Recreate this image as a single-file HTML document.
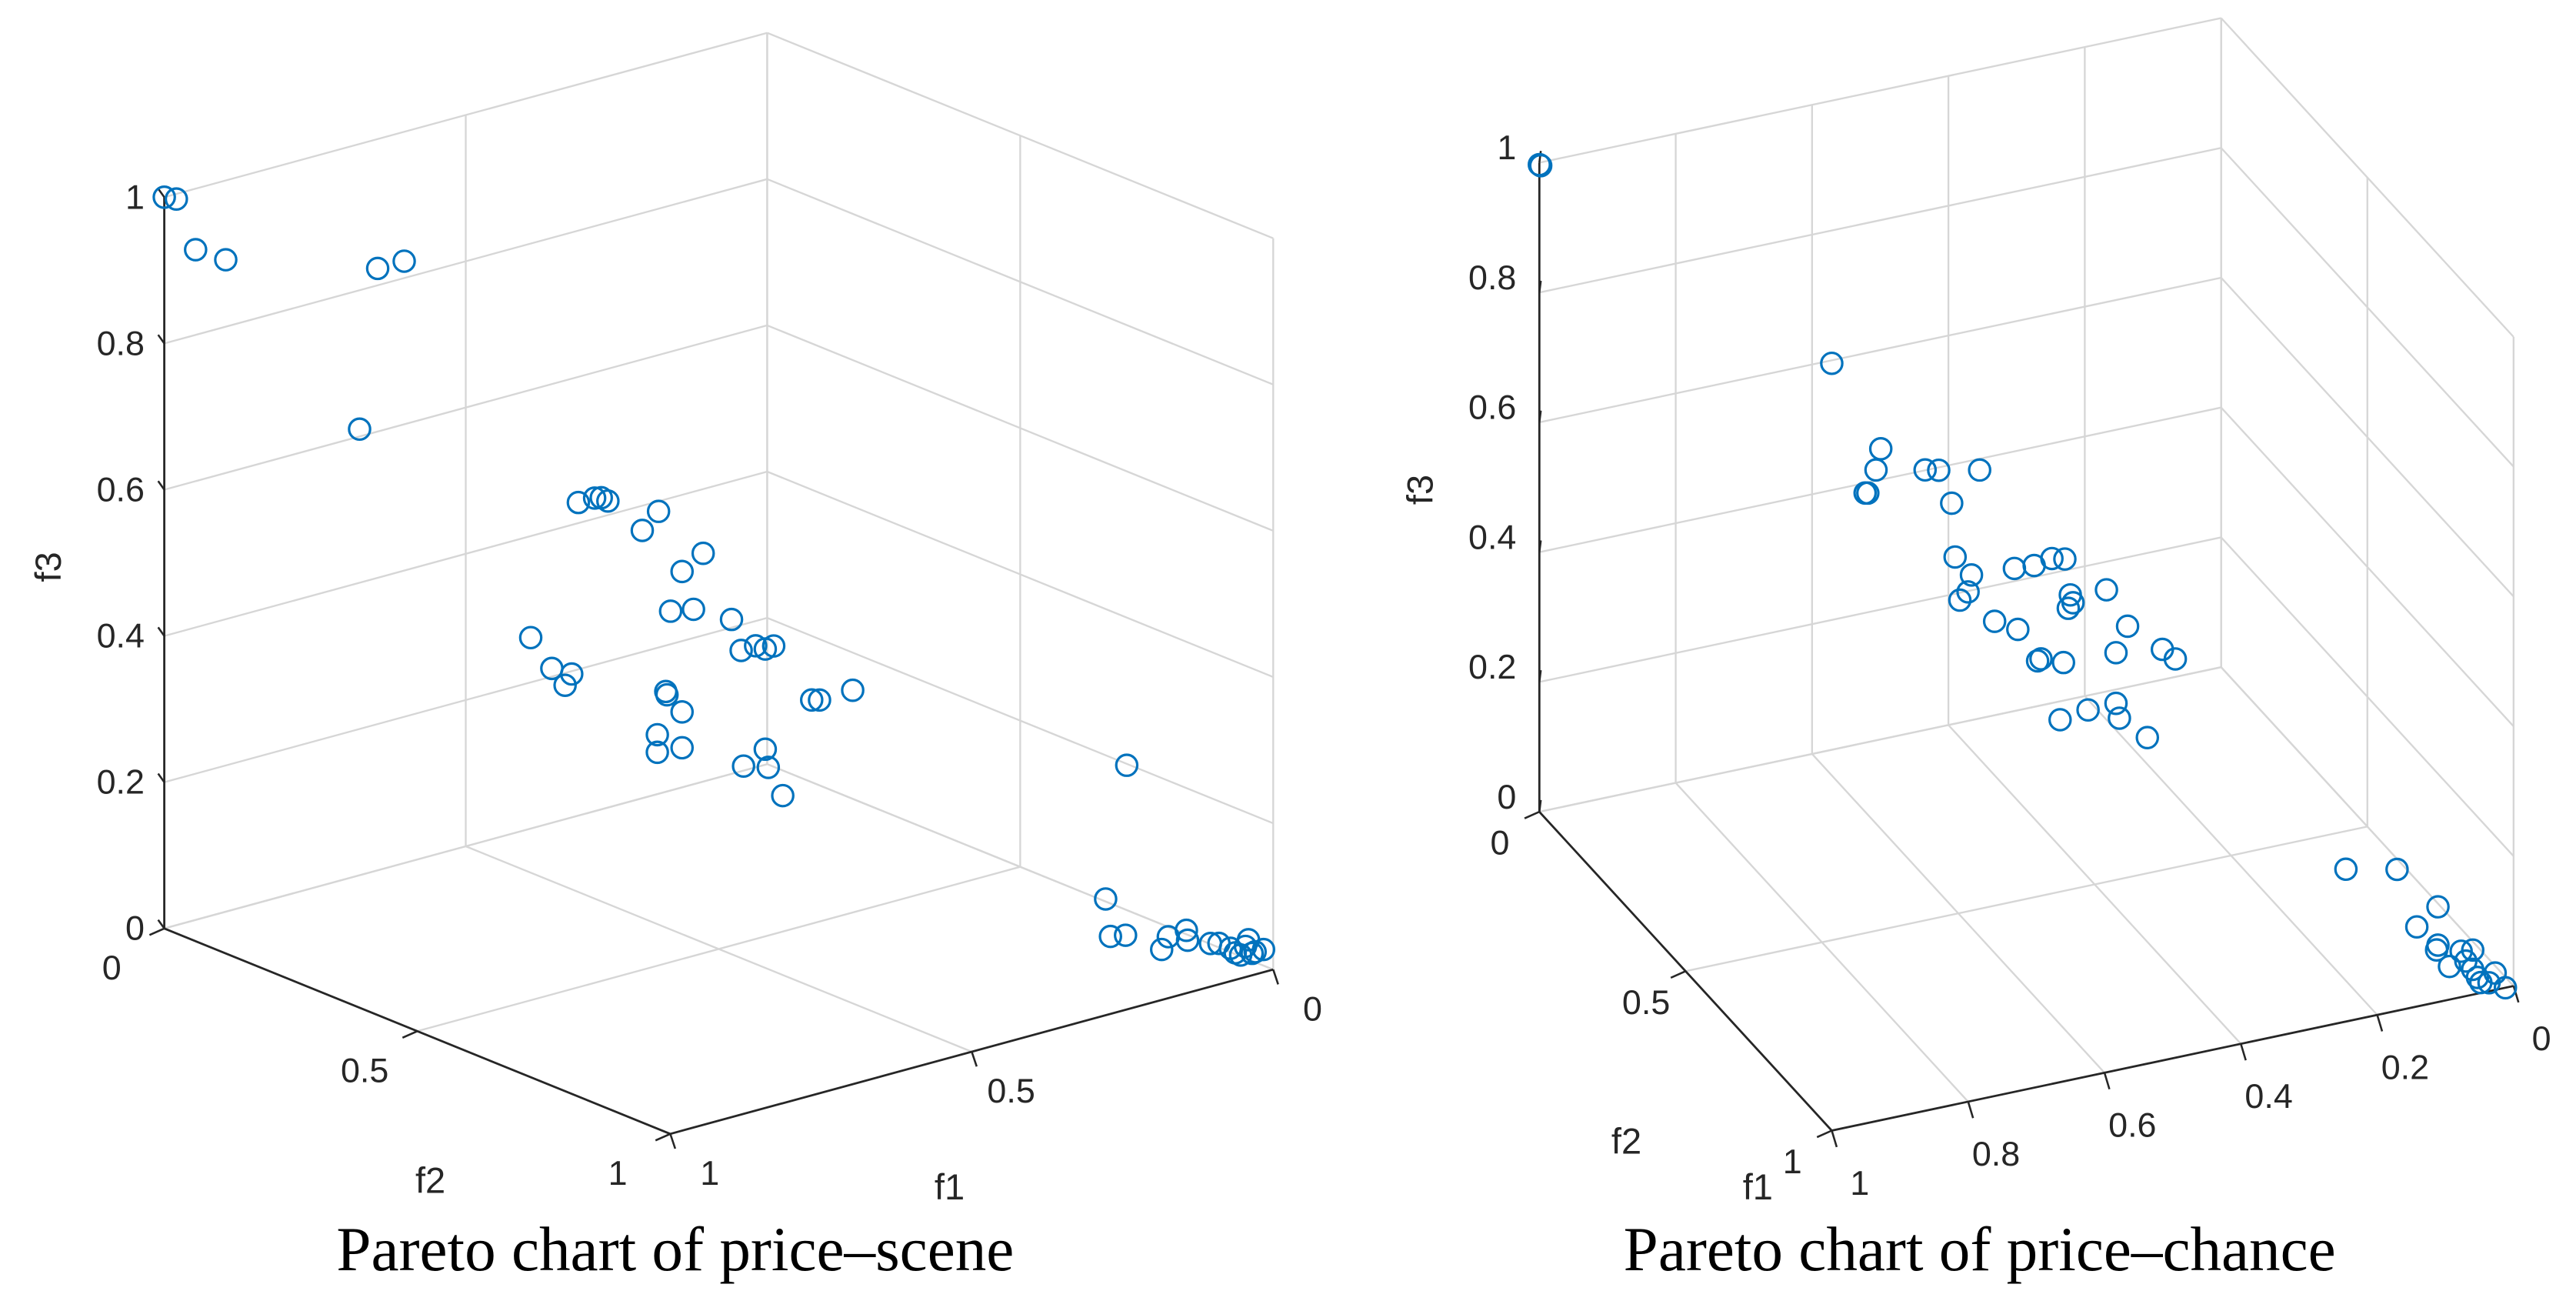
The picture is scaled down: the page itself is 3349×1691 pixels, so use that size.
<!DOCTYPE html>
<html><head><meta charset="utf-8"><style>
html,body{margin:0;padding:0;background:#fff;}
svg{display:block;}
text{font-family:"Liberation Sans",sans-serif;fill:#262626;}
.ttl{font-family:"Liberation Serif",serif;fill:#000;font-size:38px;}
</style></head><body>
<svg id="fig" width="3349" height="1691" viewBox="0 0 1568 791.7" preserveAspectRatio="none" xmlns="http://www.w3.org/2000/svg">
<g id="c1"></g>
<g id="c2"></g>
<text class="ttl" x="411" y="773" text-anchor="middle">Pareto chart of price–scene</text>
<text class="ttl" x="1205" y="773" text-anchor="middle">Pareto chart of price–chance</text>
</svg>
<script>
// Chart 1 data: price-scene
const s1_f1 = [1.0,0.98,0.99,0.94,0.73,0.686,0.76,0.565,0.538,0.527,0.516,0.432,0.459,0.358,0.393,0.412,0.374,0.311,0.295,0.271,0.255,0.241,0.644,0.609,0.576,0.587,0.42,0.418,0.393,0.434,0.434,0.393,0.255,0.291,0.25,0.226,0.178,0.165,0.11,0.159,0.194,0.186,0.161,0.185,0.174,0.144,0.142,0.104,0.09,0.071,0.063,0.046,0.041,0.03,0.016,0.054,0.035];
const s1_f2 = [0,0,0.05,0.05,0.1,0.1,0.1,0.3,0.3,0.3,0.3,0.3,0.3,0.3,0.3,0.3,0.3,0.3,0.3,0.3,0.3,0.3,0.3,0.3,0.3,0.3,0.3,0.3,0.3,0.3,0.3,0.3,0.3,0.3,0.3,0.3,0.3,0.3,0.3,0.9,0.9,0.9,0.9,1,1,1,1,1,1,1,1,1,1,1,1,1,1];
const s1_f3 = [1.0,0.993,0.94,0.915,0.87,0.87,0.657,0.569,0.569,0.567,0.56,0.527,0.507,0.453,0.436,0.386,0.38,0.352,0.306,0.307,0.299,0.30,0.402,0.352,0.337,0.324,0.278,0.273,0.244,0.222,0.198,0.195,0.162,0.147,0.136,0.092,0.212,0.209,0.21,0.287,0.112,0.059,0.055,0.069,0.084,0.086,0.072,0.059,0.056,0.045,0.037,0.042,0.05,0.031,0.031,0.032,0.03];
const s1_f1Ticks = [0,0.5,1];
const s1_f1Labels = ["0","0.5","1"];
const s1_f2Ticks = [0,0.5,1];
const s1_f2Labels = ["0","0.5","1"];
const s1_f3Ticks = [0,0.2,0.4,0.6,0.8,1];
const s1_f3Labels = ["0","0.2","0.4","0.6","0.8","1"];

// Chart 2 data: price-chance
const s2_f1 = [1.0,0.998,0.614,0.585,0.592,0.608,0.604,0.52,0.5,0.44,0.481,0.476,0.452,0.457,0.469,0.389,0.36,0.334,0.315,0.254,0.307,0.303,0.31,0.418,0.384,0.35,0.355,0.317,0.223,0.24,0.172,0.153,0.322,0.281,0.24,0.235,0.194,0.203,0.128,0.068,0.099,0.068,0.07,0.034,0.017,0.094,0.07,0.06,0.053,0.036,0.027,0.012,0.048];
const s2_f2 = [0,0,0.1,0.2,0.2,0.2,0.2,0.2,0.2,0.2,0.2,0.2,0.2,0.2,0.2,0.2,0.2,0.2,0.2,0.2,0.2,0.2,0.2,0.2,0.2,0.2,0.2,0.2,0.2,0.2,0.2,0.2,0.2,0.2,0.2,0.2,0.2,0.9,0.9,0.9,0.9,0.9,0.9,0.9,0.9,1,1,1,1,1,1,1,1];
const s2_f3 = [0.997,0.995,0.654,0.565,0.534,0.502,0.501,0.518,0.513,0.50,0.458,0.374,0.341,0.316,0.306,0.337,0.335,0.34,0.335,0.274,0.278,0.265,0.258,0.262,0.242,0.189,0.187,0.176,0.211,0.174,0.164,0.145,0.089,0.095,0.096,0.072,0.033,0.176,0.159,0.088,0.064,0.029,0.022,0.012,0.01,0.051,0.054,0.039,0.025,0.013,0.026,0.0,0.016];
const s2_f1Ticks = [0,0.2,0.4,0.6,0.8,1];
const s2_f1Labels = ["0","0.2","0.4","0.6","0.8","1"];
const s2_f2Ticks = [0,0.5,1];
const s2_f2Labels = ["0","0.5","1"];
const s2_f3Ticks = [0,0.2,0.4,0.6,0.8,1];
const s2_f3Labels = ["0","0.2","0.4","0.6","0.8","1"];

const NS="http://www.w3.org/2000/svg";
function mk(parent,tag,attrs){const e=document.createElementNS(NS,tag);for(const k in attrs)e.setAttribute(k,attrs[k]);parent.appendChild(e);return e;}

function drawChart(g,cfg,d){
  const P=(a,b,c)=>[cfg.O[0]+a*cfg.E1[0]+b*cfg.E2[0]+c*cfg.E3[0], cfg.O[1]+a*cfg.E1[1]+b*cfg.E2[1]+c*cfg.E3[1]];
  const line=(p,q,col,w,name)=>{const l=mk(g,'line',{x1:p[0],y1:p[1],x2:q[0],y2:q[1],stroke:col,'stroke-width':w});
    
    };
  const gc='#d6d6d6';
  d.f1T.forEach(t=>line(P(t,0,0),P(t,0,1),gc,1.1,'grid-line'));
  d.f3T.forEach(t=>line(P(0,0,t),P(1,0,t),gc,1.1,'grid-line'));
  d.f2T.forEach(t=>line(P(0,t,0),P(0,t,1),gc,1.1,'grid-line'));
  d.f3T.forEach(t=>line(P(0,0,t),P(0,1,t),gc,1.1,'grid-line'));
  d.f1T.forEach(t=>line(P(t,0,0),P(t,1,0),gc,1.1,'grid-line'));
  d.f2T.forEach(t=>line(P(0,t,0),P(1,t,0),gc,1.1,'grid-line'));
  const ac='#262626';
  line(P(1,0,0),P(1,0,1),ac,1.3,'f3-axis-line');
  line(P(1,0,0),P(1,1,0),ac,1.3,'f2-axis-line');
  line(P(1,1,0),P(0,1,0),ac,1.3,'f1-axis-line');
  d.f3T.forEach(t=>line(P(1,0,t),P(1-0.015,-0.03,t),ac,1.2,'f3-tick'));
  d.f2T.forEach(t=>{const p=P(1,t,0);line(p,[p[0]-cfg.tk2[0],p[1]-cfg.tk2[1]],ac,1.2,'f2-tick');});
  d.f1T.forEach(t=>{const p=P(t,1,0);line(p,[p[0]+cfg.tk1[0],p[1]+cfg.tk1[1]],ac,1.2,'f1-tick');});
  d.f3T.forEach((t,i)=>{const p=P(1,0,t);const e=mk(g,'text',{x:p[0]-cfg.o3[0],y:p[1]+cfg.o3[1],'text-anchor':'end','font-size':21});e.textContent=d.f3L[i];
    
    });
  d.f2T.forEach((t,i)=>{const p=P(1,t,0);const e=mk(g,'text',{x:p[0]+cfg.o2[0],y:p[1]+cfg.o2[1]+7,'text-anchor':'middle','font-size':21});e.textContent=d.f2L[i];
    
    });
  d.f1T.forEach((t,i)=>{const p=P(t,1,0);const e=mk(g,'text',{x:p[0]+cfg.o1[0],y:p[1]+cfg.o1[1]+7,'text-anchor':'middle','font-size':21});e.textContent=d.f1L[i];
    
    });
  let e=mk(g,'text',{x:cfg.t3[0],y:cfg.t3[1],'text-anchor':'middle','font-size':22,transform:`rotate(-90 ${cfg.t3[0]} ${cfg.t3[1]})`});e.textContent='f3';
  
  
  e=mk(g,'text',{x:cfg.t2[0],y:cfg.t2[1],'text-anchor':'middle','font-size':22});e.textContent='f2';
  
  
  e=mk(g,'text',{x:cfg.t1[0],y:cfg.t1[1],'text-anchor':'middle','font-size':22});e.textContent='f1';
  
  
  d.f1.forEach((v,i)=>{const p=P(v,d.f2[i],d.f3[i]);const c=mk(g,'circle',{cx:p[0],cy:p[1],r:6.4,fill:'none',stroke:'#0072BD','stroke-width':1.5});
    
    });
}

drawChart(document.getElementById('c1'),
 {O:[467,465],E1:[-367,100],E2:[308,125],E3:[0,-445],tk2:[9,-4],tk1:[3,9],o3:[12,7],o2:[-32,24],o1:[24,24],t3:[37,345],t2:[262,726],t1:[578,730]},
 {f1:s1_f1,f2:s1_f2,f3:s1_f3,f1T:s1_f1Ticks,f1L:s1_f1Labels,f2T:s1_f2Ticks,f2L:s1_f2Labels,f3T:s1_f3Ticks,f3L:s1_f3Labels});
drawChart(document.getElementById('c2'),
 {O:[1352,406],E1:[-415,88],E2:[178,194],E3:[0,-395],tk2:[9,-4],tk1:[3,10],o3:[14,-2],o2:[-24,19],o1:[17,32],t3:[872,298],t2:[990,702],t1:[1070,730]},
 {f1:s2_f1,f2:s2_f2,f3:s2_f3,f1T:s2_f1Ticks,f1L:s2_f1Labels,f2T:s2_f2Ticks,f2L:s2_f2Labels,f3T:s2_f3Ticks,f3L:s2_f3Labels});
</script>
</body></html>
